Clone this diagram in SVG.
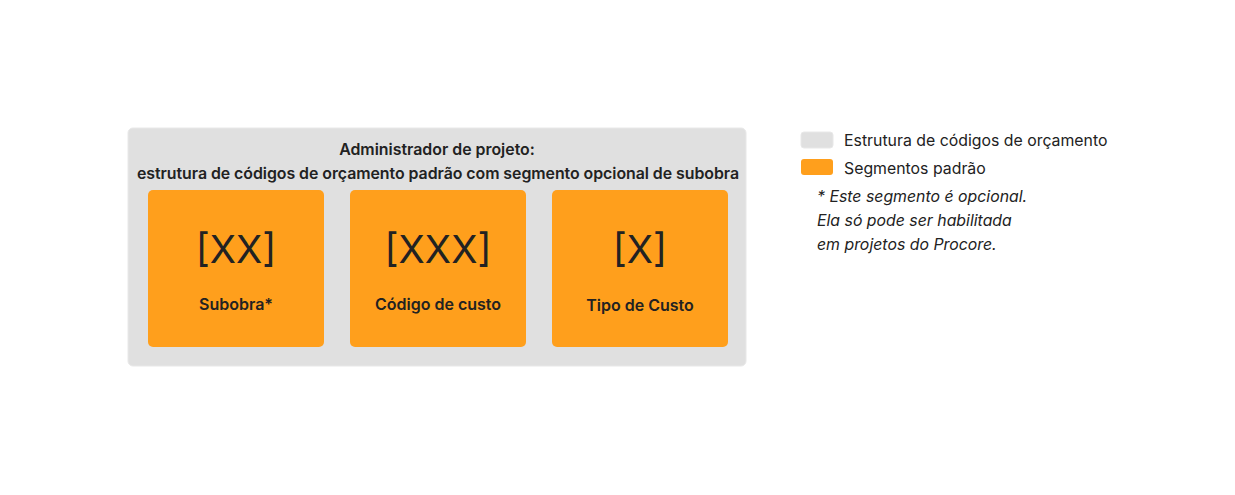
<svg xmlns="http://www.w3.org/2000/svg" width="1235" height="495" viewBox="0 0 1235 495">
<style>
text{font-family:Inter,"Noto Sans","Liberation Sans",sans-serif;fill:#222222}
.seg{fill:#FF9F1C}
.title{font-size:15.9px;font-weight:600;text-anchor:middle}
.big{font-size:38.5px;font-weight:400;text-anchor:middle}
.lbl{font-size:16px;font-weight:600;text-anchor:middle}
.leg{font-size:15.85px}
.note{font-size:15.85px;font-style:italic}
</style>
<rect width="1235" height="495" fill="#ffffff"/>
<g id="container">
<rect x="128" y="128" width="618" height="238" rx="5" fill="#E0E0E0" stroke="#E8E8E8" stroke-width="1"/>
<text class="title" x="437" y="155">Administrador de projeto:</text>
<text class="title" x="438" y="179" textLength="602" lengthAdjust="spacing">estrutura de códigos de orçamento padrão com segmento opcional de subobra</text>
</g>
<g id="subobra">
<rect class="seg" x="148" y="190" width="176" height="157" rx="5"/>
<text class="big" x="236" y="263">[XX]</text>
<text class="lbl" x="236" y="310">Subobra*</text>
</g>
<g id="codigo">
<rect class="seg" x="350" y="190" width="176" height="157" rx="5"/>
<text class="big" x="438" y="263">[XXX]</text>
<text class="lbl" x="438" y="310">Código de custo</text>
</g>
<g id="tipo">
<rect class="seg" x="552" y="190" width="176" height="157" rx="5"/>
<text class="big" x="640" y="263">[X]</text>
<text class="lbl" x="640" y="311">Tipo de Custo</text>
</g>
<g id="connectors"></g>
<g id="legend">
<rect x="801" y="132" width="32" height="16" rx="3" fill="#E0E0E0" stroke="#E8E8E8"/>
<text class="leg" x="844" y="146">Estrutura de códigos de orçamento</text>
<rect x="801" y="159" width="32" height="16" rx="3" class="seg"/>
<text class="leg" x="844" y="174">Segmentos padrão</text>
<text class="note" x="817" y="202">* Este segmento é opcional.</text>
<text class="note" x="817" y="226">Ela só pode ser habilitada</text>
<text class="note" x="817" y="250">em projetos do Procore.</text>
</g>
</svg>
